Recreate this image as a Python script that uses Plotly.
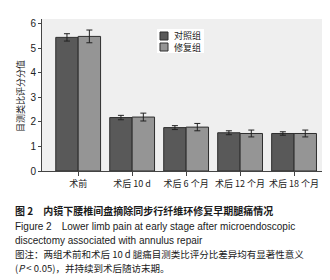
import plotly.graph_objects as go

categories = ["术前", "术后 10 d", "术后 6 个月", "术后 12 个月", "术后 18 个月"]
control_vals = [5.45, 2.18, 1.77, 1.56, 1.53]
control_err = [0.15, 0.09, 0.08, 0.08, 0.07]
repair_vals = [5.49, 2.20, 1.79, 1.53, 1.53]
repair_err = [0.26, 0.16, 0.15, 0.14, 0.14]
series_names = ["对照组", "修复组"]
series_colors = ["#595959", "#959595"]
y_title = "目测类比评分分值"

W, H = 330, 280
L, R, T, B = 34, 11, 11, 117
ph = H - T - B
pw = W - L - R

def py(px):
    return (H - B - px) / ph

def px_x(px):
    return (px - L) / pw

fig = go.Figure()
fig.add_trace(go.Bar(
    x=categories, y=control_vals, name=series_names[0],
    marker=dict(color=series_colors[0], line=dict(color="#2e2e2e", width=1)),
    error_y=dict(type="data", array=control_err, color="#222222", thickness=1, width=3),
))
fig.add_trace(go.Bar(
    x=categories, y=repair_vals, name=series_names[1],
    marker=dict(color=series_colors[1], line=dict(color="#2e2e2e", width=1)),
    error_y=dict(type="data", array=repair_err, color="#222222", thickness=1, width=3),
))

font_cjk = "Noto Sans CJK SC, Liberation Sans, Arial, sans-serif"
font_lat = "Liberation Sans, Arial, sans-serif"

fig.update_layout(
    width=W, height=H,
    margin=dict(l=L, r=R, t=T, b=B, autoexpand=False),
    paper_bgcolor="white",
    plot_bgcolor="#efefef",
    barmode="group",
    bargap=0.17,
    bargroupgap=0,
    font=dict(family=font_cjk, size=9, color="#222222"),
    showlegend=False,
    xaxis=dict(range=[-0.67, 4.61], showline=True, linecolor="#444444", linewidth=1,
               ticks="outside", ticklen=4, tickcolor="#444444", tickangle=0,
               automargin=False, tickfont=dict(size=9), showgrid=False),
    yaxis=dict(range=[0, 6.2], dtick=1, showline=True, linecolor="#444444", linewidth=1,
               ticks="outside", ticklen=3, tickcolor="#444444", showgrid=False,
               zeroline=False, automargin=False,
               tickfont=dict(family=font_lat, size=10)),
)

fig.add_annotation(text=y_title, xref="paper", yref="paper",
                   x=px_x(12), y=py(88), xanchor="center", yanchor="middle",
                   textangle=-90, showarrow=False,
                   font=dict(size=9, family=font_cjk, color="#222222"))

lx0, lx1, ly0, ly1 = 149, 196, 21, 45
fig.add_shape(type="rect", xref="paper", yref="paper",
              x0=px_x(lx0), x1=px_x(lx1), y0=py(ly1), y1=py(ly0),
              fillcolor="white", line=dict(width=0), layer="above")
for i, (name, col) in enumerate(zip(series_names, series_colors)):
    cy = 28 + i * 11
    fig.add_shape(type="rect", xref="paper", yref="paper",
                  x0=px_x(152), x1=px_x(160), y0=py(cy + 4), y1=py(cy - 4),
                  fillcolor=col, line=dict(color="#2e2e2e", width=1), layer="above")
    fig.add_annotation(text=name, xref="paper", yref="paper",
                       x=px_x(164), y=py(cy), xanchor="left", yanchor="middle",
                       showarrow=False, font=dict(size=9, family=font_cjk, color="#222222"))

caps = [
    ("<b>图 2　内镜下腰椎间盘摘除同步行纤维环修复早期腿痛情况</b>", 202, 10, font_cjk),
    ("Figure 2　Lower limb pain at early stage after microendoscopic", 218, 10, font_lat),
    ("discectomy associated with annulus repair", 232, 10, font_lat),
    ("图注：两组术前和术后 10 d 腿痛目测类比评分比差异均有显著性意义", 246, 9.5, font_cjk),
    ("(<i>P</i> < 0.05)，并持续到术后随访末期。", 260, 9.5, font_cjk),
]
for text, ypx, size, fam in caps:
    fig.add_annotation(text=text, xref="paper", yref="paper",
                       x=px_x(5), y=py(ypx), xanchor="left", yanchor="middle",
                       showarrow=False, font=dict(size=size, family=fam, color="#1a1a1a"))

fig.write_html("out.html")
